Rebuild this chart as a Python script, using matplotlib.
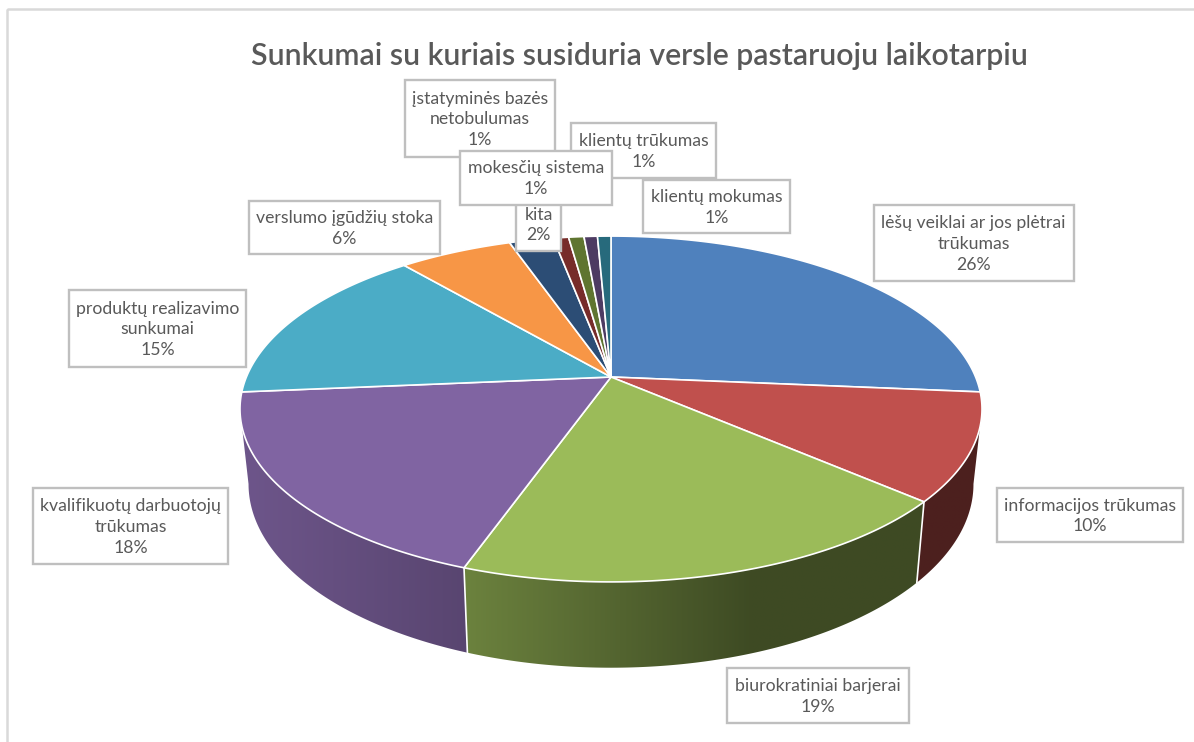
import numpy as np
import matplotlib
matplotlib.use("Agg")
import matplotlib.pyplot as plt
from matplotlib.patches import Polygon, Rectangle
from matplotlib.path import Path
from matplotlib.transforms import Transform

plt.rcParams['font.family'] = ['Lato', 'DejaVu Sans']

title = "Sunkumai su kuriais susiduria versle pastaruoju laikotarpiu"
categories = ["lėšų veiklai ar jos plėtrai\ntrūkumas", "informacijos trūkumas",
              "biurokratiniai barjerai", "kvalifikuotų darbuotojų\ntrūkumas",
              "produktų realizavimo\nsunkumai", "verslumo įgūdžių stoka", "kita",
              "įstatyminės bazės\nnetobulumas", "mokesčių sistema",
              "klientų trūkumas", "klientų mokumas"]
values = [26.4, 10.0, 19.0, 18.2, 15.2, 5.9, 2.3, 0.8, 0.8, 0.7, 0.7]
colors = ["#4F81BD", "#C0504D", "#9BBB59", "#8064A2", "#4BACC6", "#F79646",
          "#2C4D75", "#772C2A", "#5F7530", "#4D3B62", "#276A7C"]
# label boxes: left, right, top, bottom (pixels)
boxes = [(873.5, 1073.5, 205, 281), (996.5, 1183, 488, 542), (727, 909, 668, 723),
         (33, 228, 488, 564), (69, 246, 290, 367), (249, 440, 201, 254),
         (516, 561, 195, 251), (405, 555, 80, 157), (571, 716, 123, 178),
         (643, 790, 180, 233), (460, 612, 150.5, 205)]
box_owner = [0, 1, 2, 3, 4, 5, 6, 7, 9, 10, 8]

CX, CY, A, B, K = 611.0, 377.0, 364.6, 167.0, 0.185
XS, DROP, YS = 0.977, 73.0, 1.0625


def top_xy(u, v):
    w = 1 + K * v
    return CX + A * u / w, CY - B * v / w


def base_xy(u, v):
    w = 1 + K * v
    return CX + XS * A * u / w, CY + DROP - YS * B * v / w


class DiscTransform(Transform):
    input_dims = output_dims = 2
    has_inverse = False

    def transform_non_affine(self, values):
        pts = np.asarray(values, float)
        x, y = top_xy(pts[:, 0], pts[:, 1])
        return np.column_stack([x, y])

    def transform_path_non_affine(self, path):
        # sample the bezier segments so the arcs stay smooth after the perspective
        pts = [curve(np.linspace(0, 1, 48)) for curve, _ in path.iter_bezier()]
        return Path(self.transform_non_affine(np.vstack(pts)), closed=True)


fig = plt.figure(figsize=(11.94, 7.42), dpi=100, facecolor="white")
ax = fig.add_axes([0, 0, 1, 1])

wedges, _ = ax.pie(values, colors=colors, startangle=90, counterclock=False,
                   wedgeprops=dict(edgecolor="white", linewidth=1.2, zorder=3))

disc = DiscTransform() + ax.transData
for w in wedges:
    w.set_transform(disc)
    w.set_clip_on(False)

# side wall of the disc: only the part between the two silhouette tangents, shaded along x
edges = np.cumsum([0.0] + values) / sum(values) * 2 * np.pi
tangent_r = np.arccos(-K)
tangent_l = 2 * np.pi - tangent_r
front = [i for i in range(len(values))
         if edges[i + 1] > tangent_r and edges[i] < tangent_l]
for i in front:
    a0, a1 = max(edges[i], tangent_r), min(edges[i + 1], tangent_l)
    t = np.linspace(a0, a1, 200)
    u, v = np.sin(t), np.cos(t)
    tx, ty = top_xy(u, v)
    bx, by = base_xy(u, v)
    outline = np.column_stack([np.r_[tx, bx[::-1]], np.r_[ty, by[::-1]]])
    x0, x1 = outline[:, 0].min(), outline[:, 0].max()
    y0, y1 = outline[:, 1].min(), outline[:, 1].max()
    xs = np.linspace(x0, x1, 400)
    shade = np.interp(xs, [250, 470, 750], [0.85, 0.69, 0.40])
    grad = shade[None, :, None] * np.array(matplotlib.colors.to_rgb(colors[i]))[None, None, :]
    im = ax.imshow(grad, extent=(x0, x1, y1, y0), aspect="auto", zorder=1, interpolation="bilinear")
    clip = Polygon(outline, closed=True, transform=ax.transData, fc="none", ec="none")
    ax.add_patch(clip)
    im.set_clip_path(clip)

for a in edges[1:-1]:
    if tangent_r < a < tangent_l:
        x0, y0 = top_xy(np.sin(a), np.cos(a))
        x1, y1 = base_xy(np.sin(a), np.cos(a))
        ax.plot([x0, x1], [y0, y1], color="white", lw=1.2, zorder=2)

ax.set(xlim=(0, 1194), ylim=(742, 0), aspect="auto")
ax.axis("off")

# chart-area border (only top and left fall inside the crop)
ax.add_patch(Rectangle((6.5, 9), 1400, 900, fill=False, ec="#D9D9D9", lw=1.8, zorder=0))

ax.text(639.5, 56, title, ha="center", va="center", fontsize=21.75, fontweight="semibold", color="#595959")

for order, owner in enumerate(box_owner):
    l, r, t, b = boxes[order]
    ax.add_patch(Rectangle((l, t), r - l, b - t, fc="white", ec="#BFBFBF", lw=1.7, zorder=5 + order))
    text = f"{categories[owner]}\n{round(values[owner])}%"
    ax.text((l + r) / 2, ((t + b) / 2 if owner != 6 else 224) + 1, text, ha="center", va="center",
            fontsize=12.7, color="#595959", linespacing=1.38, zorder=5 + order)

fig.savefig("out.png", dpi=100, facecolor="white")
